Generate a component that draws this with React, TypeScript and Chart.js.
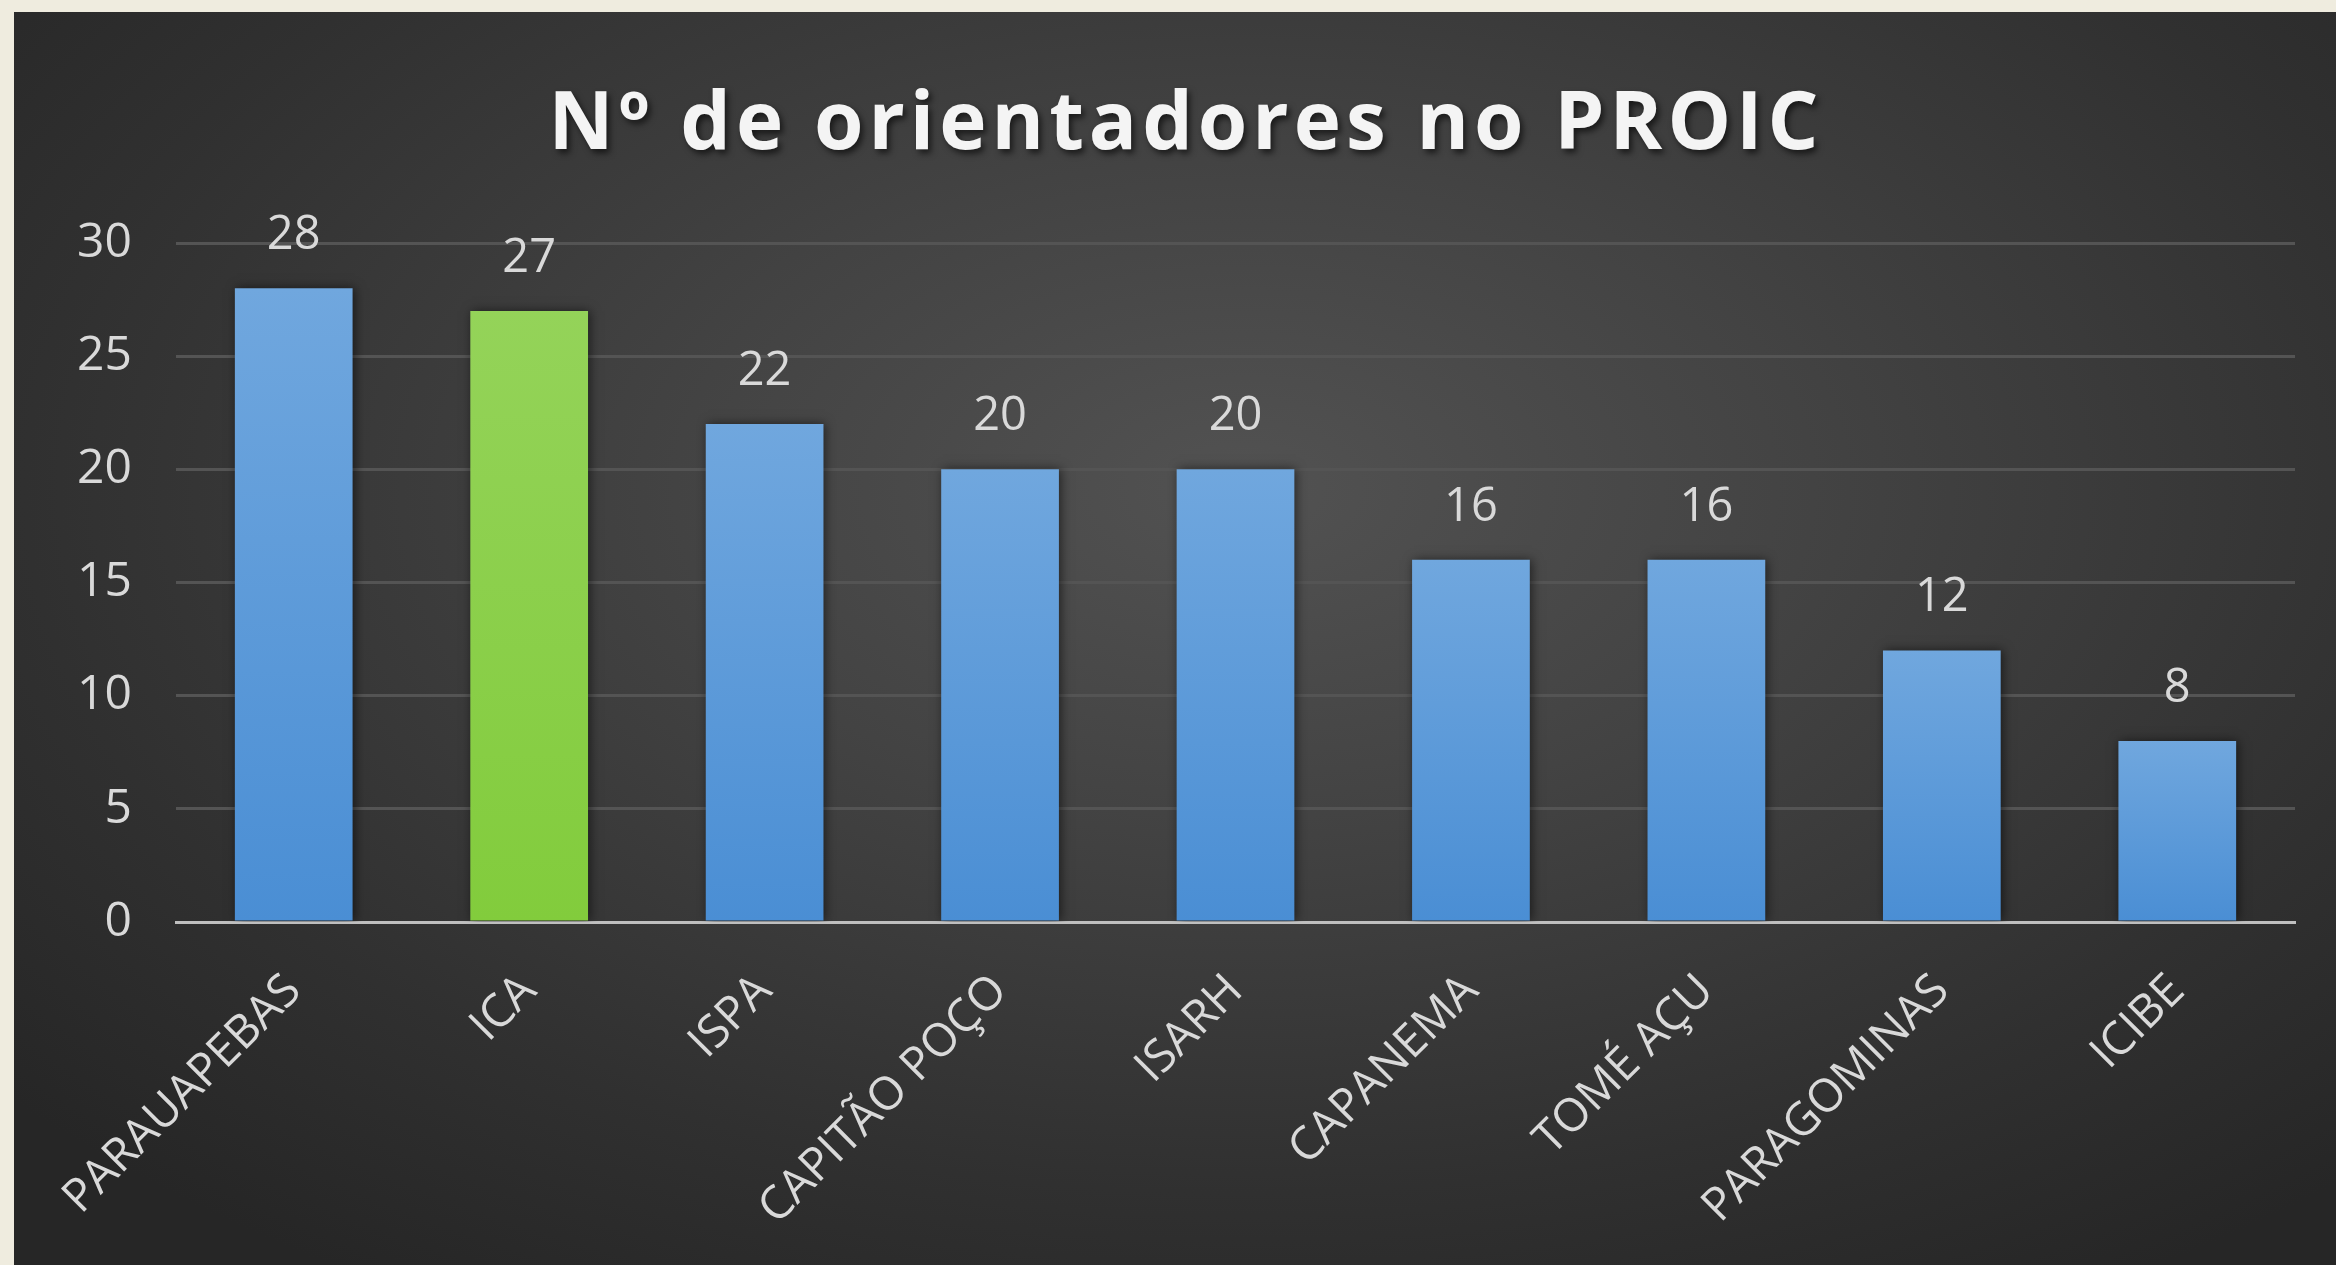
import React, { useEffect, useRef } from "react";
import { Chart, registerables } from "chart.js";

Chart.register(...registerables);

const categories = ["PARAUAPEBAS", "ICA", "ISPA", "CAPITÃO POÇO", "ISARH", "CAPANEMA", "TOMÉ AÇU", "PARAGOMINAS", "ICIBE"];
const values = [28, 27, 22, 20, 20, 16, 16, 12, 8];
const highlighted = ["ICA"];
const yTicks = [0, 5, 10, 15, 20, 25, 30];
const titleText = "Nº de orientadores no PROIC";

const CANVAS_W = 2322;
const CANVAS_H = 1253;

export default function App() {
  const ref = useRef<HTMLCanvasElement | null>(null);

  useEffect(() => {
    const canvas = ref.current;
    if (!canvas) return;

    const titlePlugin = {
      id: "customTitle",
      afterDraw(chart: any) {
        const ctx = chart.ctx;
        ctx.save();
        ctx.font = 'bold 80px "Open Sans"';
        (ctx as any).letterSpacing = "5px";
        ctx.fillStyle = "#f4f4f4";
        ctx.shadowColor = "rgba(0,0,0,0.6)";
        ctx.shadowBlur = 6;
        ctx.shadowOffsetX = 3;
        ctx.shadowOffsetY = 4;
        ctx.textAlign = "center";
        ctx.textBaseline = "alphabetic";
        ctx.fillText(titleText, 1172, 137);
        ctx.restore();
      },
    };

    const shadowPlugin = {
      id: "barShadow",
      beforeDatasetsDraw(chart: any) {
        const ctx = chart.ctx;
        ctx.save();
        ctx.shadowColor = "rgba(0,0,0,0.55)";
        ctx.shadowBlur = 10;
        ctx.shadowOffsetX = 2;
        ctx.shadowOffsetY = 0;
      },
      afterDatasetsDraw(chart: any) {
        chart.ctx.restore();
        const ctx = chart.ctx;
        const meta = chart.getDatasetMeta(0);
        ctx.save();
        ctx.font = '47px "Open Sans"';
        ctx.fillStyle = "#d9d9d9";
        ctx.textAlign = "center";
        ctx.textBaseline = "alphabetic";
        meta.data.forEach((el: any, i: number) => {
          ctx.fillText(String(values[i]), el.x, el.y - 39);
        });
        ctx.restore();
      },
    };

    const chart = new Chart(canvas, {
      type: "bar",
      data: {
        labels: categories,
        datasets: [
          {
            data: values,
            barPercentage: 0.5,
            categoryPercentage: 1.0,
            borderWidth: 0,
            backgroundColor: (c: any) => {
              const ch = c.chart;
              const area = ch.chartArea;
              const isGreen = highlighted.includes(categories[c.dataIndex]);
              if (!area || c.type !== "data") return isGreen ? "#8cd04a" : "#5b9bd5";
              const yScale = ch.scales.y;
              const top = yScale.getPixelForValue(values[c.dataIndex]);
              const bottom = yScale.getPixelForValue(0);
              const g = ch.ctx.createLinearGradient(0, top, 0, bottom);
              if (isGreen) {
                g.addColorStop(0, "#94d359");
                g.addColorStop(1, "#82cc3c");
              } else {
                g.addColorStop(0, "#70a7de");
                g.addColorStop(1, "#4a8ed4");
              }
              return g;
            },
          },
        ],
      },
      options: {
        animation: false,
        responsive: false,
        maintainAspectRatio: false,
        devicePixelRatio: 1,
        layout: { padding: { top: 231, right: 41, left: 0, bottom: 0 } },
        plugins: {
          legend: { display: false },
          title: { display: false },
          tooltip: { enabled: false },
        },
        scales: {
          x: {
            grid: { display: false, drawTicks: false },
            border: { display: true, color: "#bfbfbf", width: 3 },
            ticks: {
              color: "#d9d9d9",
              font: { family: '"Open Sans"', size: 46 },
              minRotation: 45,
              maxRotation: 45,
              padding: 42,
              autoSkip: false,
            },
            afterFit: (scale: any) => {
              scale.height = CANVAS_H - 910;
            },
          },
          y: {
            min: 0,
            max: 30,
            grid: {
              color: (c: any) => (c.tick && c.tick.value === 0 ? "rgba(0,0,0,0)" : "#545454"),
              lineWidth: 3,
              drawTicks: false,
            },
            border: { display: false },
            afterBuildTicks: (scale: any) => {
              scale.ticks = yTicks.map((v) => ({ value: v }));
            },
            ticks: {
              color: "#d9d9d9",
              font: { family: '"Open Sans"', size: 48 },
              padding: 44,
            },
            afterFit: (scale: any) => {
              scale.width = 162;
            },
          },
        },
      },
      plugins: [shadowPlugin, titlePlugin],
    });

    return () => chart.destroy();
  }, []);

  return (
    <div
      style={{
        position: "absolute",
        left: 0,
        top: 0,
        width: 2336,
        height: 1265,
        background: "#efecdf",
        overflow: "hidden",
      }}
    >
      <div
        style={{
          position: "absolute",
          left: 14,
          top: 12,
          width: CANVAS_W,
          height: CANVAS_H,
          background:
            "radial-gradient(ellipse 70% 75% at 53% 38%, #525252 0%, #434343 35%, #303030 75%, #262626 100%)",
        }}
      >
        <canvas ref={ref} width={CANVAS_W} height={CANVAS_H} style={{ display: "block" }} />
      </div>
    </div>
  );
}
